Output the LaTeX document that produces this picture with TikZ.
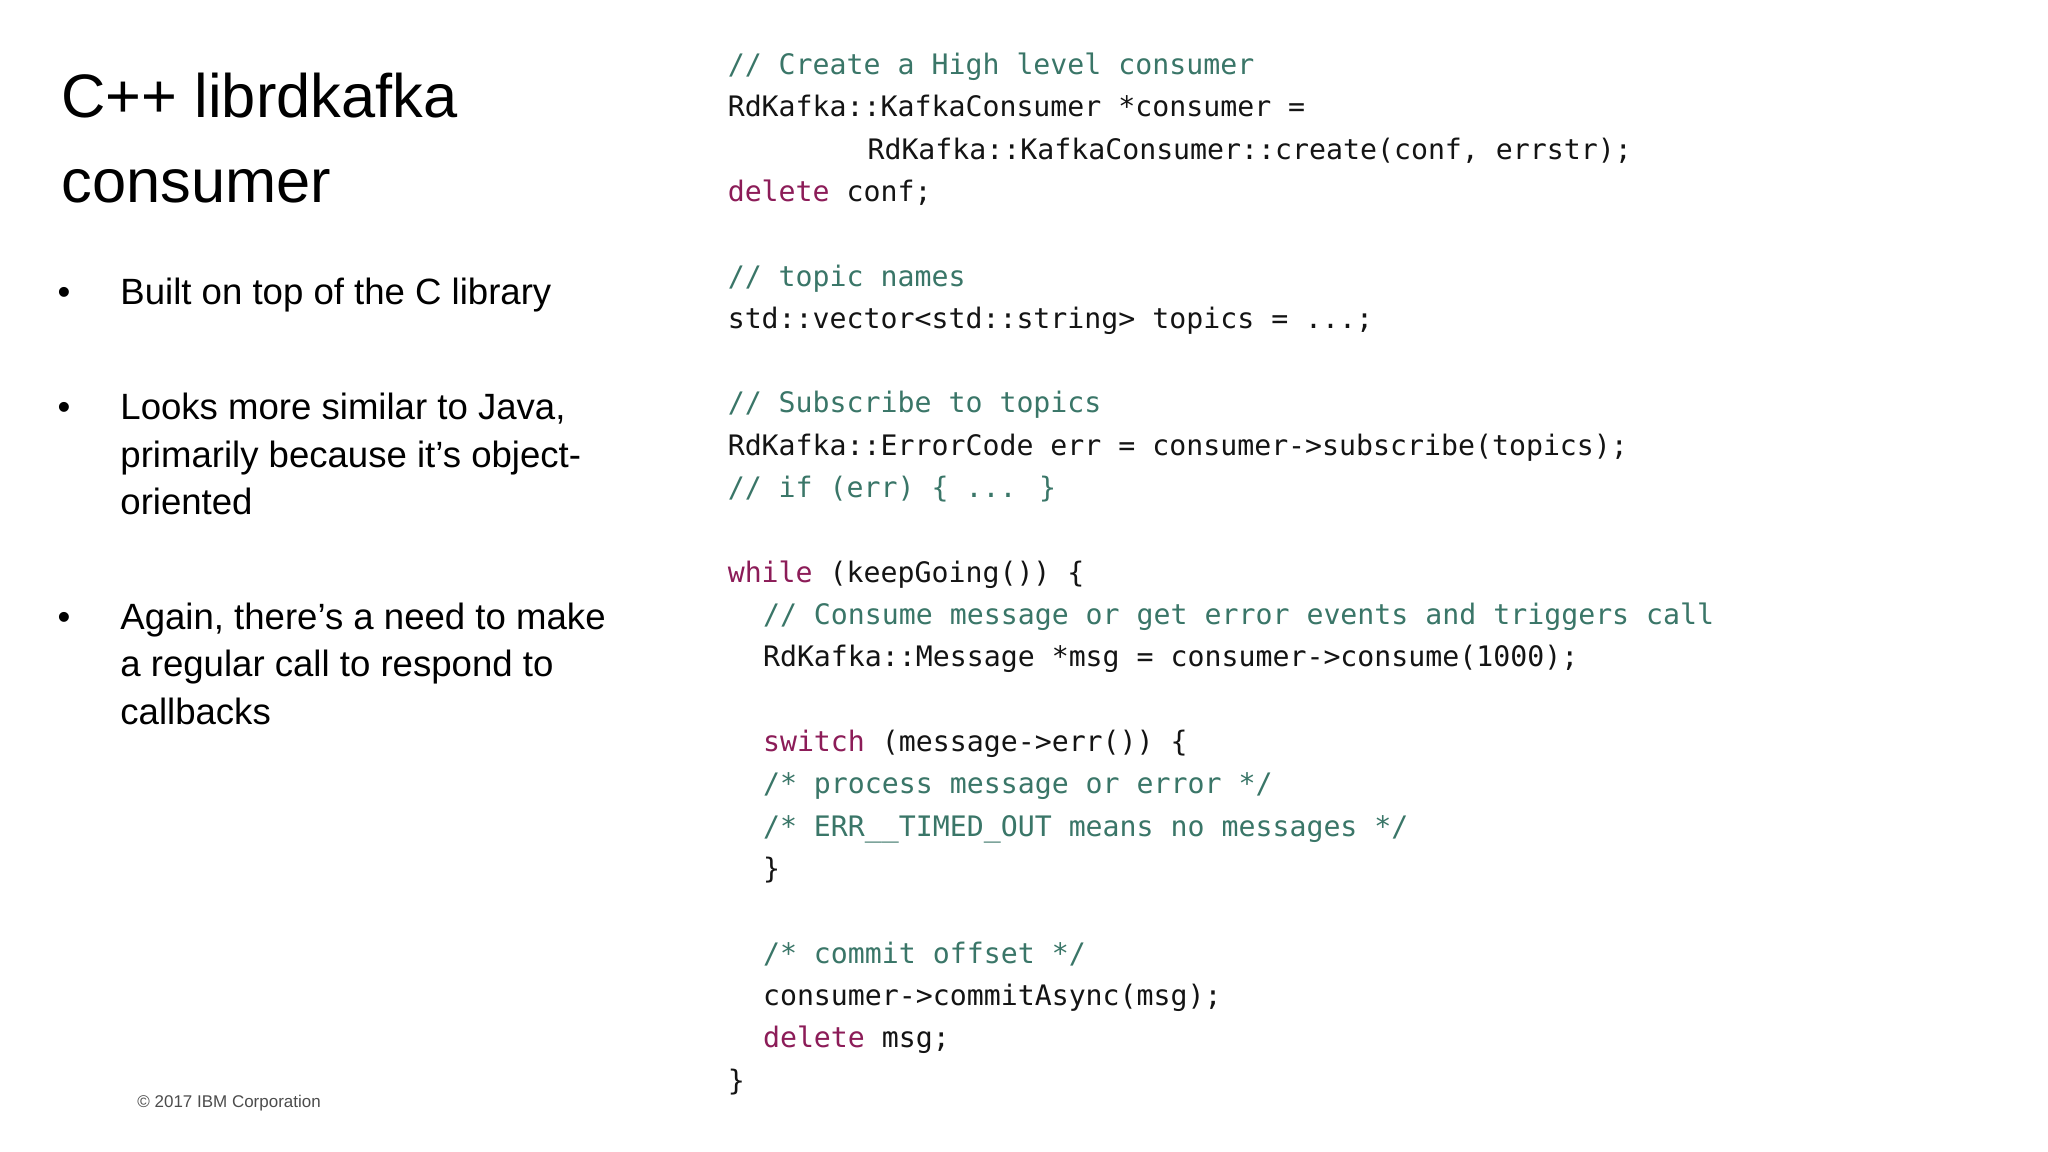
\documentclass[tikz,border=0pt]{standalone}
\usepackage{fontspec}
\setmainfont{Liberation Sans}
\newfontfamily\codefont{DejaVu Sans Mono}
\definecolor{cmt}{RGB}{58,118,104}
\definecolor{kw}{RGB}{140,28,88}
\definecolor{txt}{RGB}{20,20,20}
\begin{document}
\begin{tikzpicture}[x=1pt,y=-1pt,
  code/.style={anchor=base west,inner sep=0pt,font=\codefont\fontsize{21.6}{26}\selectfont,text=txt},
  cmtline/.style={code,text=cmt},
  tl/.style={anchor=base west,inner sep=0pt,font=\fontsize{47}{50}\selectfont,text=black},
  bl/.style={anchor=base west,inner sep=0pt,font=\fontsize{28}{32}\selectfont,text=black}]
\useasboundingbox (0,0) rectangle (1568,882);
\fill[white] (0,0) rectangle (1568,882);
% title
\node[tl] (t1) at (47,90) {C++ librdkafka};
\node[tl] (t2) at (47,155) {consumer};
% bullets
\node[bl] (b1d) at (44,233) {•};
\node[bl] (b1) at (92,233) {Built on top of the C library};
\node[bl] (b2d) at (44,321) {•};
\node[bl] (b2a) at (92,321) {Looks more similar to Java,};
\node[bl] (b2b) at (92,358) {primarily because it’s object-};
\node[bl] (b2c) at (92,394) {oriented};
\node[bl] (b3d) at (44,482) {•};
\node[bl] (b3a) at (92,482) {Again, there’s a need to make};
\node[bl] (b3b) at (92,518) {a regular call to respond to};
\node[bl] (b3c) at (92,555) {callbacks};
\node[anchor=base west,inner sep=0pt,font=\fontsize{13}{15}\selectfont,text=black!70] (cr) at (105,848) {© 2017 IBM Corporation};
% code
\node[cmtline] (c0) at (557,57) {// Create a High level consumer};
\node[code] (c1) at (557,89.4) {RdKafka::KafkaConsumer *consumer =};
\node[code] (c2) at (664,121.8) {RdKafka::KafkaConsumer::create(conf, errstr);};
\node[code] (c3) at (557,154.2) {\textcolor{kw}{delete} conf;};
\node[cmtline] (c5) at (557,219) {// topic names};
\node[code] (c6) at (557,251.4) {std::vector<std::string> topics = ...;};
\node[cmtline] (c8) at (557,316.2) {// Subscribe to topics};
\node[code] (c9) at (557,348.6) {RdKafka::ErrorCode err = consumer->subscribe(topics);};
\node[cmtline] (c10) at (557,381) {// if (err) \{ ... \}};
\node[code] (c12) at (557,445.8) {\textcolor{kw}{while} (keepGoing()) \{};
\node[cmtline] (c13) at (584,478.2) {// Consume message or get error events and triggers call};
\node[code] (c14) at (584,510.6) {RdKafka::Message *msg = consumer->consume(1000);};
\node[code] (c16) at (584,575.4) {\textcolor{kw}{switch} (message->err()) \{};
\node[cmtline] (c17) at (584,607.8) {/* process message or error */};
\node[cmtline] (c18) at (584,640.2) {/* ERR\_\_TIMED\_OUT means no messages */};
\node[code] (c19) at (584,672.6) {\}};
\node[cmtline] (c21) at (584,737.4) {/* commit offset */};
\node[code] (c22) at (584,769.8) {consumer->commitAsync(msg);};
\node[code] (c23) at (584,802.2) {\textcolor{kw}{delete} msg;};
\node[code] (c24) at (557,834.6) {\}};
\end{tikzpicture}
\end{document}
